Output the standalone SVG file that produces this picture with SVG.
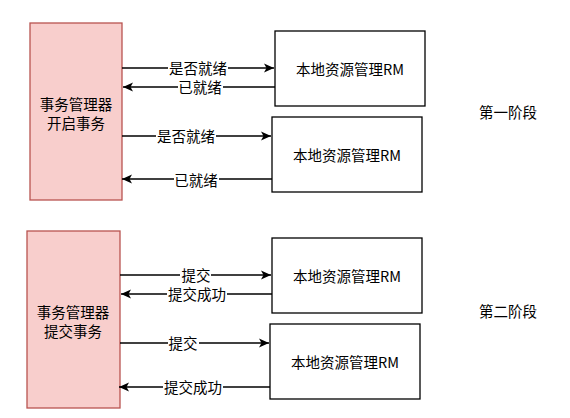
<svg xmlns="http://www.w3.org/2000/svg" width="570" height="418" viewBox="0 0 570 418">
<style>
.tm{fill:#f8cecc;stroke:#b85450;stroke-width:1.3}
.rm{fill:#fff;stroke:#000;stroke-width:1.3}
text{font-family:"Noto Sans CJK SC","Liberation Sans",sans-serif;font-size:14.5px;fill:#000;text-anchor:middle;dominant-baseline:central}
.ln{stroke:#000;stroke-width:1.3;fill:none;marker-end:url(#ah)}
.lb{fill:#fff}
</style>
<defs>
<marker id="ah" markerWidth="12" markerHeight="10" refX="10" refY="5" orient="auto" markerUnits="userSpaceOnUse">
<path d="M0,0.5 L10,5 L0,9.5 L2.5,5 Z" fill="#000"/>
</marker>
</defs>
<rect width="570" height="418" fill="#fff"/>
<g id="tm1"><rect class="tm" x="30" y="23" width="92" height="177"/><text x="76" y="103">事务管理器</text><text x="76" y="122">开启事务</text></g>
<g id="rm1"><rect class="rm" x="275" y="31" width="150" height="75"/><text x="350" y="68">本地资源管理RM</text></g>
<g id="rm2"><rect class="rm" x="272" y="117" width="150" height="75"/><text x="347" y="154">本地资源管理RM</text></g>
<g id="tm2"><rect class="tm" x="27" y="231" width="93" height="177"/><text x="73" y="311">事务管理器</text><text x="73" y="330">提交事务</text></g>
<g id="rm3"><rect class="rm" x="272" y="238" width="150" height="75"/><text x="347" y="275">本地资源管理RM</text></g>
<g id="rm4"><rect class="rm" x="270" y="324" width="150" height="75"/><text x="345" y="361">本地资源管理RM</text></g>
<g id="p1"><text x="508" y="111">第一阶段</text></g>
<g id="p2"><text x="508" y="310">第二阶段</text></g>
<g id="connectors">
<line class="ln" x1="122" y1="68" x2="274" y2="68"/>
<line class="ln" x1="275" y1="87" x2="123" y2="87"/>
<line class="ln" x1="122" y1="136" x2="271" y2="136"/>
<line class="ln" x1="272" y1="179" x2="122" y2="179"/>
<line class="ln" x1="120" y1="275" x2="271" y2="275"/>
<line class="ln" x1="272" y1="294" x2="121" y2="294"/>
<line class="ln" x1="120" y1="343" x2="269" y2="343"/>
<line class="ln" x1="270" y1="387" x2="119" y2="387"/>
<rect class="lb" x="168" y="60" width="60" height="15"/><text x="198" y="67">是否就绪</text>
<rect class="lb" x="178" y="80" width="45" height="15"/><text x="200" y="86">已就绪</text>
<rect class="lb" x="156" y="128" width="60" height="15"/><text x="186" y="135">是否就绪</text>
<rect class="lb" x="174" y="172" width="45" height="15"/><text x="196" y="179">已就绪</text>
<rect class="lb" x="180" y="267" width="31" height="15"/><text x="196" y="274">提交</text>
<rect class="lb" x="167" y="287" width="60" height="15"/><text x="197" y="293">提交成功</text>
<rect class="lb" x="168" y="335" width="31" height="15"/><text x="183" y="342">提交</text>
<rect class="lb" x="163" y="380" width="60" height="15"/><text x="193" y="386">提交成功</text>
</g>
</svg>
